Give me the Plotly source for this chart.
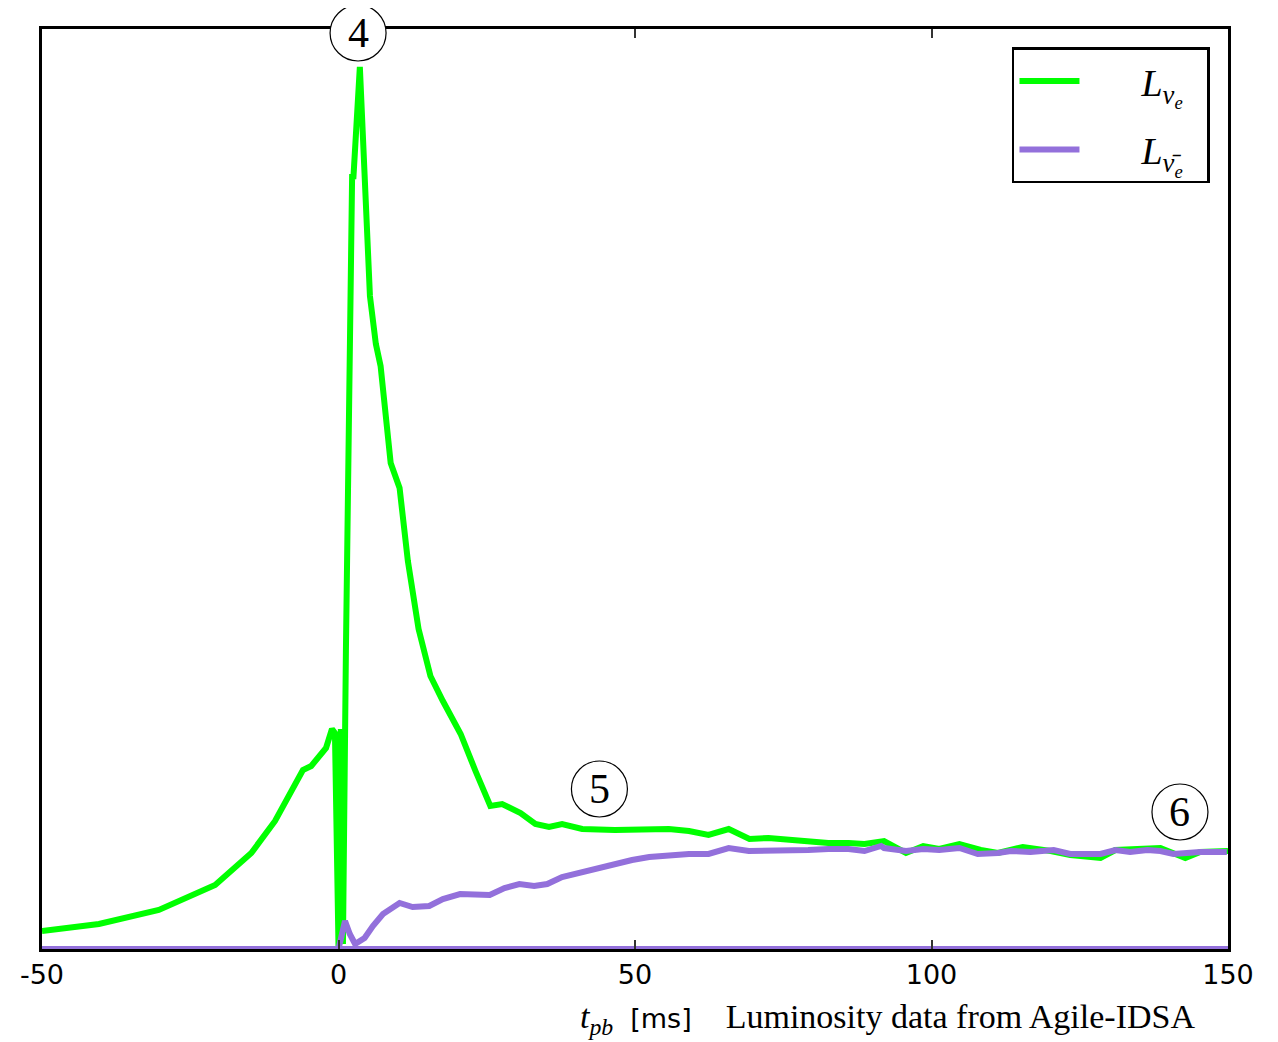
import plotly.graph_objects as go

# ---- data (time post bounce in ms, luminosity in arbitrary units) ----
t_nue = [-50, -40.4, -30.3, -20.8, -14.7, -10.7, -6.0, -4.6, -2.1, -1.1, -0.6,
         0.0, 0.4, 0.75, 1.25, 1.6, 1.75, 1.8, 2.3, 2.5, 3.6, 5.3, 6.3, 7.1,
         8.8, 10.3, 11.7, 13.5, 15.5, 17.6, 20.6, 23.1, 25.6, 27.6, 30.7, 33.2,
         35.5, 37.7, 41.1, 46.6, 52.4, 55.7, 59.1, 62.4, 65.8, 69.3, 72.5, 75.9,
         79.2, 82.6, 86.0, 88.7, 92.0, 95.7, 98.6, 101.3, 104.7, 108.3, 111.2,
         115.4, 120.1, 123.4, 128.5, 131.0, 134.7, 138.6, 142.8, 145.3, 150.0]
L_nue = [18, 25, 39, 64, 96, 128, 179, 183, 201, 220, 216,
         2, 220, 5, 298, 465, 548, 615, 775, 770, 882, 653, 605, 583,
         486, 461, 388, 320, 273, 248, 215, 178, 143, 145, 136, 125,
         122, 125, 120, 119, 120, 120, 118, 114, 120, 110, 111, 109,
         108, 106, 106, 105, 108, 96, 103, 100, 105, 99, 96,
         102, 98, 94, 91, 99, 100, 101, 91, 97, 98]

t_anue = [-50, 0.0, 1.1, 1.9, 2.8, 4.4, 5.8, 7.5, 10.3, 12.5, 15.3, 17.6, 20.5,
          25.5, 28.0, 30.5, 33.0, 35.2, 37.7, 41.1, 43.9, 46.6, 49.5, 52.4,
          55.7, 59.1, 62.4, 65.8, 69.2, 72.5, 75.9, 79.2, 82.6, 86.0, 88.7,
          91.5, 92.0, 95.7, 98.6, 101.3, 104.7, 107.8, 111.2, 113.4, 116.7,
          120.6, 123.4, 128.5, 131.0, 133.5, 136.4, 138.6, 140.8, 142.8,
          145.3, 149.8]
L_anue = [0, 0, 28, 15, 5, 11, 23, 35, 46, 42, 43, 50, 55,
          54, 61, 65, 63, 65, 72, 77, 82, 86, 89, 92,
          94, 95, 95, 101, 98, 98, 99, 99, 100, 100, 98,
          103, 101, 98, 100, 99, 101, 95, 96, 98, 97,
          99, 95, 95, 99, 97, 99, 98, 95, 96,
          97, 97]

t_zero = [-50, 150]
L_zero = [0, 0]

x_ticks = [-50, 0, 50, 100, 150]
x_ticktext = ["-50", "0", "50", "100", "150"]

# phase markers (label, t, L)
marker_labels = ["4", "5", "6"]
marker_t = [3.3, 44.0, 141.9]
marker_L = [916, 160, 137]

X_RANGE = [-50, 150]
Y_RANGE = [0, 920]

GREEN = "#00ff00"
PURPLE = "#9370db"

NB = "\u00a0"

fig = go.Figure()
fig.add_trace(go.Scatter(x=t_nue, y=L_nue, mode="lines",
                         line=dict(color=GREEN, width=6),
                         name=NB * 6 + "<i>L</i><sub><i>ν<sub>e</sub></i></sub>" + NB * 2,
                         legendgroup="a"))
fig.add_trace(go.Scatter(x=t_anue, y=L_anue, mode="lines",
                         line=dict(color=PURPLE, width=6),
                         name=NB * 6 + "<i>L</i><sub><i>ν\u0304<sub>e</sub></i></sub>" + NB * 2,
                         legendgroup="b"))
fig.add_trace(go.Scatter(x=t_zero, y=L_zero, mode="lines",
                         line=dict(color=PURPLE, width=6),
                         showlegend=False, hoverinfo="skip"))


def to_paper(t, L):
    return ((t - X_RANGE[0]) / (X_RANGE[1] - X_RANGE[0]),
            (L - Y_RANGE[0]) / (Y_RANGE[1] - Y_RANGE[0]))


for lab, tx, ly in zip(marker_labels, marker_t, marker_L):
    px, py = to_paper(tx, ly)
    fig.add_shape(type="circle", xref="paper", yref="paper",
                  xsizemode="pixel", ysizemode="pixel",
                  xanchor=px, yanchor=py,
                  x0=-28, x1=28, y0=-28, y1=28,
                  line=dict(color="black", width=1.2),
                  fillcolor="white", layer="above")
    fig.add_annotation(x=px, y=py, xref="paper", yref="paper", text=lab,
                       showarrow=False,
                       font=dict(family="Liberation Serif", size=42, color="black"),
                       xanchor="center", yanchor="middle")

fig.add_annotation(
    xref="paper", yref="paper", x=0.974, y=-0.076,
    xanchor="right", yanchor="middle", showarrow=False,
    text=("<i>t</i><sub><i>pb</i></sub>" + NB * 2 +
          "<span style=\"font-family:'DejaVu Sans';font-size:27px\">[ms]</span>"
          + NB * 4 + "Luminosity data from Agile-IDSA"),
    font=dict(family="Liberation Serif", size=34, color="black"))

fig.update_layout(
    width=1278, height=1042,
    margin=dict(l=30, r=58, t=21, b=101),
    paper_bgcolor="white", plot_bgcolor="white",
    showlegend=True,
    legend=dict(x=0.9848, xanchor="right", y=0.98, yanchor="top",
                bordercolor="black", borderwidth=2.5, bgcolor="white",
                font=dict(family="Liberation Serif", size=38, color="black"),
                tracegroupgap=16, itemwidth=60, traceorder="grouped"),
    xaxis=dict(range=X_RANGE, tickvals=x_ticks, ticktext=x_ticktext,
               ticks="inside", ticklen=9, tickwidth=1.5, tickcolor="#333",
               showline=True, linecolor="black", linewidth=2.5, mirror="ticks",
               showgrid=False, zeroline=False,
               tickfont=dict(family="DejaVu Sans", size=27, color="black")),
    yaxis=dict(range=Y_RANGE, showticklabels=False, ticks="",
               showline=True, linecolor="black", linewidth=2.5, mirror=True,
               showgrid=False, zeroline=False),
)

fig.write_html("out.html")
